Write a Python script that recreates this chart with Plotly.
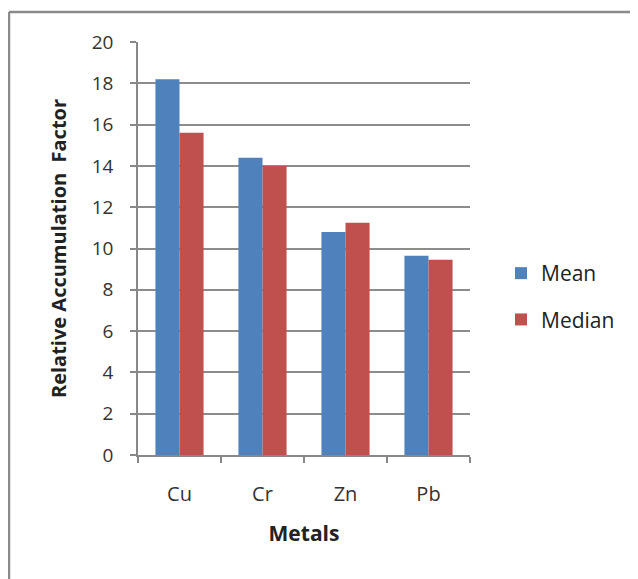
import plotly.graph_objects as go

metals = ["Cu", "Cr", "Zn", "Pb"]
mean_vals = [18.2, 14.4, 10.8, 9.65]
median_vals = [15.6, 14.0, 11.25, 9.45]
y_ticks = [0, 2, 4, 6, 8, 10, 12, 14, 16, 18, 20]

# page body has an 8px margin; figure is sized to fill the remaining window
OFF = 8
W, H = 638 - OFF, 579 - OFF
L, R, T, B = 138, 470, 42, 455   # plot area in window pixels

fig = go.Figure()
fig.add_bar(x=metals, y=mean_vals, name="Mean", marker=dict(color="#4f81bd", line=dict(width=0)),
            legendgroup="a")
fig.add_bar(x=metals, y=median_vals, name="Median", marker=dict(color="#c0504d", line=dict(width=0)),
            legendgroup="b")

pw = R - L
ph = B - T
def px_x(p):
    return (p - L) / pw
def px_y(p):
    return (B - p) / ph

fig.update_layout(
    width=W, height=H,
    margin=dict(l=L - OFF, r=W - (R - OFF), t=T - OFF, b=H - (B - OFF), pad=0),
    plot_bgcolor="white", paper_bgcolor="white",
    barmode="group", bargap=0.42, bargroupgap=0,
    font=dict(family="Open Sans, Liberation Sans, sans-serif", color="#333333"),
    showlegend=True,
    legend=dict(x=px_x(501), y=px_y(253), xanchor="left", yanchor="top",
                font=dict(size=21, color="#222222"), tracegroupgap=16,
                traceorder="grouped", itemwidth=30, bgcolor="rgba(0,0,0,0)"),
    xaxis=dict(type="category", showline=True, linecolor="#888888", linewidth=1.5,
               ticks="outside", ticklen=6, tickcolor="#888888", tickwidth=1.5,
               tickson="boundaries", ticklabelstandoff=20,
               tickfont=dict(size=20, color="#333333"),
               title=dict(text="<b>Metals</b>", font=dict(size=21, color="#222222"), standoff=21),
               showgrid=False, zeroline=False),
    yaxis=dict(range=[0, 20], tickvals=y_ticks, showline=True, linecolor="#888888", linewidth=1.5,
               ticks="outside", ticklen=6, tickcolor="#888888", tickwidth=1.5,
               ticklabelstandoff=13,
               tickfont=dict(size=19, color="#333333"),
               gridcolor="#8c8c8c", gridwidth=1.5, zeroline=False,
               title=dict(text="<b>Relative Accumulation  Factor</b>", font=dict(size=20, color="#222222"),
                          standoff=20)),
    shapes=[
        dict(type="line", xref="paper", yref="paper", x0=px_x(9), x1=px_x(640), y0=px_y(12), y1=px_y(12),
             line=dict(color="#8a8a8a", width=2.5)),
        dict(type="line", xref="paper", yref="paper", x0=px_x(9), x1=px_x(9), y0=px_y(12), y1=px_y(585),
             line=dict(color="#8a8a8a", width=2.5)),
    ],
)

fig.write_html("out.html")
